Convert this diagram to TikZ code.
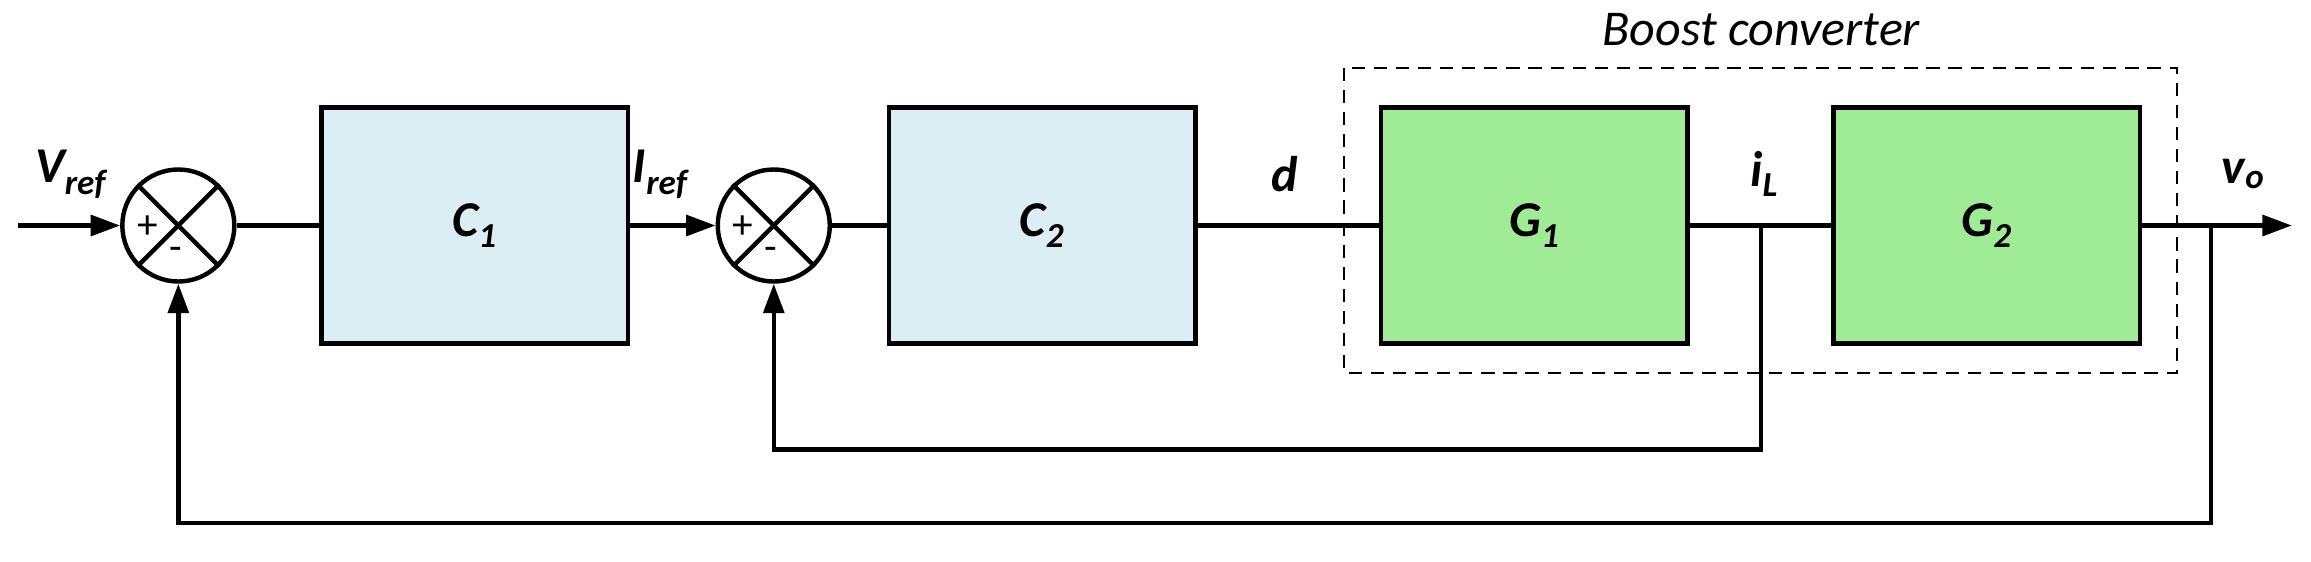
\documentclass[tikz,border=0pt]{standalone}
\usepackage{fontspec}
\setmainfont{Carlito}
\usetikzlibrary{arrows.meta,calc}
\definecolor{cblue}{HTML}{DBEEF4}
\definecolor{cgreen}{HTML}{A0EC96}
\begin{document}
\begin{tikzpicture}[x=1pt,y=-1pt,line width=3pt,
  blk/.style={draw,minimum width=208pt,minimum height=160pt,font=\fontsize{34}{40}\selectfont\bfseries\itshape},
  sumj/.style={draw,circle,minimum size=76pt,inner sep=0pt},
  lab/.style={font=\fontsize{34}{40}\selectfont\bfseries\itshape},
  arr/.style={-{Triangle[length=20pt,width=14pt]}}]
\useasboundingbox (0,0) rectangle (1568,381);
\node[sumj] (s1) at (121,153) {};
\node[sumj] (s2) at (525,153) {};
\foreach \s in {s1,s2}{
  \draw (\s.north west) -- (\s.south east);
  \draw (\s.north east) -- (\s.south west);
  \node[font=\fontsize{28}{30}\selectfont] at ($(\s)+(-21,1)$) {+};
  \node[font=\fontsize{28}{30}\selectfont] at ($(\s)+(-2,19)$) {-};
}
\node[blk,fill=cblue] (c1) at (322,153) {C\textsubscript{1}};
\node[blk,fill=cblue] (c2) at (707,153) {C\textsubscript{2}};
\node[blk,fill=cgreen] (g1) at (1041,153) {G\textsubscript{1}};
\node[blk,fill=cgreen] (g2) at (1348,153) {G\textsubscript{2}};
\draw[line width=1.5pt,dash pattern=on 9pt off 6pt] (912,46) rectangle (1477,253);
\node[font=\fontsize{34}{40}\selectfont\itshape] (bc) at (1195,20) {Boost converter};
\coordinate (in) at (12,153);
\coordinate (out) at (1555,153);
\coordinate (bo) at (1500,153);
\coordinate (bi) at (1195,153);
\draw[arr] (in) -- (s1);
\draw (s1) -- (c1);
\draw[arr] (c1) -- (s2);
\draw (s2) -- (c2);
\draw (c2) -- (g1);
\draw (g1) -- (g2);
\draw[arr] (g2) -- (out);
\draw[arr] (bo) -- (1500,355) -- (121,355) -- (s1.south);
\draw[arr] (bi) -- (1195,305) -- (525,305) -- (s2.south);
\node[lab] (l1) at (48,118) {V\textsubscript{ref}};
\node[lab] (l2) at (448,118) {I\textsubscript{ref}};
\node[lab] (l3) at (872,118) {d};
\node[lab] (l4) at (1197,118) {i\textsubscript{L}};
\node[lab] (l5) at (1522,118) {v\textsubscript{o}};
\end{tikzpicture}
\end{document}
